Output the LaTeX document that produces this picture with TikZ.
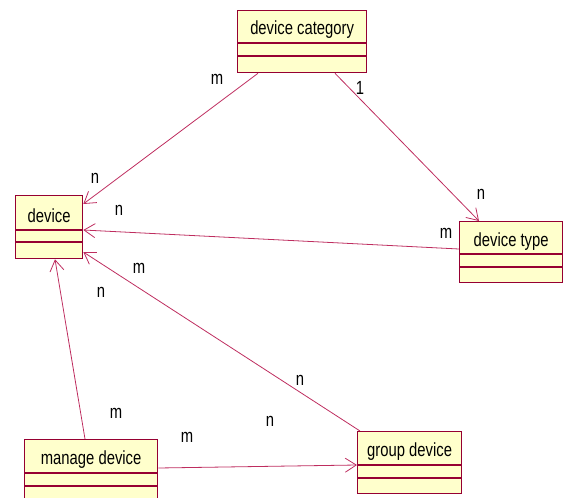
\documentclass[tikz,border=0pt]{standalone}
\usepackage{fontspec}
\setmainfont{Liberation Sans}[FakeStretch=0.78]
\usetikzlibrary{arrows.meta,calc}
\definecolor{boxline}{RGB}{150,0,50}
\definecolor{boxfill}{RGB}{255,255,204}
\definecolor{conn}{RGB}{190,45,95}
\tikzset{
  umlbox/.style={draw=boxline,fill=boxfill,line width=1.3pt,anchor=north west,inner sep=0pt},
  sepline/.style={draw=boxline,line width=1.1pt},
  title/.style={font=\fontsize{19}{19}\selectfont,inner sep=0pt},
  lbl/.style={font=\fontsize{19}{19}\selectfont,inner sep=0pt},
  conline/.style={draw=conn,line width=0.8pt,-{Straight Barb[length=11pt,width=14pt,line width=0.8pt]}}
}
\begin{document}
\begin{tikzpicture}[x=1pt,y=-1pt]
\useasboundingbox (0,0) rectangle (563,498);
% boxes
\node[umlbox,minimum width=129pt,minimum height=62pt] (cat) at (237,10) {};
\node[umlbox,minimum width=67pt,minimum height=63pt] (dev) at (15,195) {};
\node[umlbox,minimum width=103pt,minimum height=61pt] (typ) at (459,221) {};
\node[umlbox,minimum width=133pt,minimum height=64pt] (man) at (24,439) {};
\node[umlbox,minimum width=104pt,minimum height=62pt] (grp) at (357,431) {};
% separators
\draw[sepline] ($(cat.north west)+(0,33)$) -- ($(cat.north east)+(0,33)$);
\draw[sepline] ($(cat.north west)+(0,46)$) -- ($(cat.north east)+(0,46)$);
\draw[sepline] ($(dev.north west)+(0,35)$) -- ($(dev.north east)+(0,35)$);
\draw[sepline] ($(dev.north west)+(0,47)$) -- ($(dev.north east)+(0,47)$);
\draw[sepline] ($(typ.north west)+(0,33)$) -- ($(typ.north east)+(0,33)$);
\draw[sepline] ($(typ.north west)+(0,46)$) -- ($(typ.north east)+(0,46)$);
\draw[sepline] ($(man.north west)+(0,34)$) -- ($(man.north east)+(0,34)$);
\draw[sepline] ($(man.north west)+(0,47)$) -- ($(man.north east)+(0,47)$);
\draw[sepline] ($(grp.north west)+(0,34)$) -- ($(grp.north east)+(0,34)$);
\draw[sepline] ($(grp.north west)+(0,47)$) -- ($(grp.north east)+(0,47)$);
% titles
\node[title] (catT) at ($(cat.north)+(0,19.5)$) {device category};
\node[title] (devT) at ($(dev.north)+(0,21)$) {device};
\node[title] (typT) at ($(typ.north)+(0,20.5)$) {device type};
\node[title] (manT) at ($(man.north)+(0,21)$) {manage device};
\node[title] (grpT) at ($(grp.north)+(0,21)$) {group device};
% connectors
\draw[conline] ($(cat.south west)+(21,0)$) -- ($(dev.north east)+(0,9)$);
\draw[conline] ($(cat.south west)+(98,0)$) -- ($(typ.north west)+(20,0)$);
\draw[conline] ($(typ.north west)+(0,28)$) -- ($(dev.north east)+(0,35)$);
\draw[conline] ($(grp.north west)+(3,0)$) -- ($(dev.north east)+(0,57)$);
\draw[conline] ($(man.north west)+(61,0)$) -- ($(dev.south west)+(40,0)$);
\draw[conline] ($(man.north east)+(0,29)$) -- ($(grp.north west)+(0,34)$);
% multiplicity labels
\node[lbl] (l1) at (217,79) {m};
\node[lbl] (l2) at (95,178) {n};
\node[lbl] (l3) at (360,88) {1};
\node[lbl] (l4) at (481,194) {n};
\node[lbl] (l5) at (446,233) {m};
\node[lbl] (l6) at (119,210) {n};
\node[lbl] (l7) at (139,268) {m};
\node[lbl] (l8) at (300,380) {n};
\node[lbl] (l9) at (116,413) {m};
\node[lbl] (l10) at (101,292) {n};
\node[lbl] (l11) at (187,437) {m};
\node[lbl] (l12) at (270,421) {n};
\end{tikzpicture}
\end{document}
